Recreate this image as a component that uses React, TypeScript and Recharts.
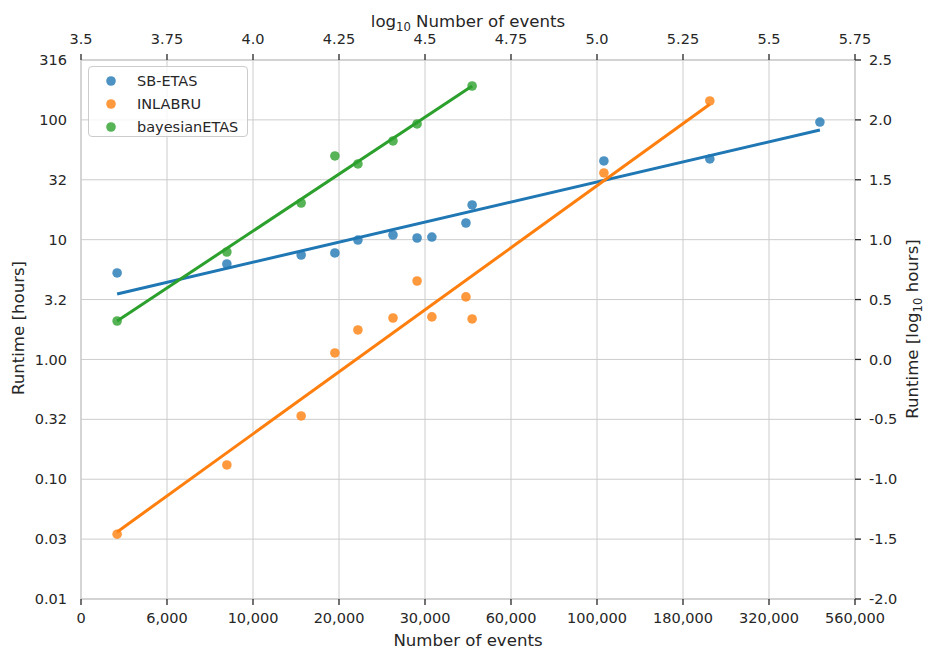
import React from "react";
import {
  ComposedChart,
  Scatter,
  XAxis,
  YAxis,
  CartesianGrid,
  Legend,
} from "recharts";

// x = log10(number of events), y = log10(runtime in hours)
const sbEtasLogEvents = [3.605, 3.924, 4.14, 4.238, 4.305, 4.407, 4.477, 4.52, 4.619, 4.637, 5.02, 5.328, 5.648];
const sbEtasLogHours = [0.722, 0.797, 0.872, 0.889, 0.997, 1.039, 1.014, 1.022, 1.139, 1.29, 1.657, 1.674, 1.982];

const inlabruLogEvents = [3.605, 3.924, 4.14, 4.238, 4.305, 4.407, 4.477, 4.52, 4.619, 4.637, 5.02, 5.328];
const inlabruLogHours = [-1.459, -0.881, -0.472, 0.054, 0.246, 0.346, 0.655, 0.355, 0.522, 0.338, 1.557, 2.158];

const bayesLogEvents = [3.605, 3.924, 4.14, 4.238, 4.305, 4.407, 4.477, 4.637];
const bayesLogHours = [0.321, 0.897, 1.306, 1.699, 1.632, 1.824, 1.966, 2.283];

// regression line end points
const sbEtasFitX = [3.605, 5.648];
const sbEtasFitY = [0.547, 1.916];
const inlabruFitX = [3.605, 5.328];
const inlabruFitY = [-1.44, 2.13];
const bayesFitX = [3.605, 4.637];
const bayesFitY = [0.321, 2.283];

const xTicks = [3.5, 3.75, 4, 4.25, 4.5, 4.75, 5, 5.25, 5.5, 5.75];
const topTickLabels = ["3.5", "3.75", "4.0", "4.25", "4.5", "4.75", "5.0", "5.25", "5.5", "5.75"];
const bottomTickLabels = ["0", "6,000", "10,000", "20,000", "30,000", "60,000", "100,000", "180,000", "320,000", "560,000"];
const yTicks = [-2, -1.5, -1, -0.5, 0, 0.5, 1, 1.5, 2, 2.5];
const leftTickLabels = ["0.01", "0.03", "0.10", "0.32", "1.00", "3.2", "10", "32", "100", "316"];
const rightTickLabels = ["-2.0", "-1.5", "-1.0", "-0.5", "0.0", "0.5", "1.0", "1.5", "2.0", "2.5"];

const FONT = "DejaVu Sans";
const TEXT = "#262626";
const SPINE = "#cccccc";

const zip = (xs: number[], ys: number[]) => xs.map((x, i) => ({ x, y: ys[i] }));

const series = [
  { name: "SB-ETAS", color: "#1f77b4", pts: zip(sbEtasLogEvents, sbEtasLogHours), fit: zip(sbEtasFitX, sbEtasFitY) },
  { name: "INLABRU", color: "#ff7f0e", pts: zip(inlabruLogEvents, inlabruLogHours), fit: zip(inlabruFitX, inlabruFitY) },
  { name: "bayesianETAS", color: "#2ca02c", pts: zip(bayesLogEvents, bayesLogHours), fit: zip(bayesFitX, bayesFitY) },
];

const labelFor = (ticks: number[], labels: string[]) => (v: number) => {
  const i = ticks.findIndex((t) => Math.abs(t - v) < 1e-6);
  return i >= 0 ? labels[i] : String(v);
};

const tickStyle = { fill: TEXT, fontSize: 14.5, fontFamily: FONT };
const tickLine = { stroke: TEXT, strokeWidth: 1.3 };
const axisLine = { stroke: SPINE, strokeWidth: 1.3 };

function Dot(color: string) {
  return (p: any) => <circle cx={p.cx} cy={p.cy} r={4.8} fill={color} fillOpacity={0.8} />;
}

const noShape = () => <g />;

function LegendBox() {
  return (
    <div
      style={{
        width: 160,
        height: 71,
        border: "1px solid #cccccc",
        borderRadius: 4,
        background: "rgba(255,255,255,0.8)",
        fontFamily: FONT,
        fontSize: 14.5,
        color: TEXT,
        boxSizing: "border-box",
        paddingTop: 2,
      }}
    >
      {series.map((s) => (
        <div key={s.name} style={{ display: "flex", alignItems: "center", height: 23.3 }}>
          <svg width={48} height={20} style={{ display: "block" }}>
            <circle cx={22} cy={10} r={4.8} fill={s.color} fillOpacity={0.8} />
          </svg>
          <span>{s.name}</span>
        </div>
      ))}
    </div>
  );
}

const topLabel = () => (
  <text x={468} y={27} textAnchor="middle" fill={TEXT} fontSize={16.6} fontFamily={FONT}>
    <tspan>log</tspan>
    <tspan fontSize={11.6} dy={4}>10</tspan>
    <tspan dy={-4}> Number of events</tspan>
  </text>
);

const bottomLabel = () => (
  <text x={468} y={646} textAnchor="middle" fill={TEXT} fontSize={16.6} fontFamily={FONT}>
    Number of events
  </text>
);

const leftLabel = () => (
  <text x={24} y={328} transform="rotate(-90 24 328)" textAnchor="middle" fill={TEXT} fontSize={16.6} fontFamily={FONT}>
    Runtime [hours]
  </text>
);

const rightLabel = () => (
  <text x={918} y={329} transform="rotate(-90 918 329)" textAnchor="middle" fill={TEXT} fontSize={16.6} fontFamily={FONT}>
    <tspan>Runtime [log</tspan>
    <tspan fontSize={11.6} dy={4}>10</tspan>
    <tspan dy={-4}> hours]</tspan>
  </text>
);

export default function App() {
  return (
    <div style={{ position: "absolute", left: 0, top: 0, background: "#fff" }}>
      <ComposedChart
        width={936}
        height={660}
        margin={{ top: 0, right: 0, bottom: 0, left: 0 }}
        style={{ fontFamily: FONT }}
      >
        <CartesianGrid xAxisId="bottom" yAxisId="left" stroke={SPINE} strokeWidth={1} horizontalValues={yTicks} verticalValues={xTicks} />
        <XAxis
          xAxisId="bottom"
          type="number"
          dataKey="x"
          domain={[3.5, 5.75]}
          ticks={xTicks}
          tickFormatter={labelFor(xTicks, bottomTickLabels)}
          height={61}
          tick={tickStyle}
          tickLine={tickLine}
          axisLine={axisLine}
          tickSize={6}
          tickMargin={8}
          interval={0}
          allowDataOverflow
          label={bottomLabel}
        />
        <XAxis
          xAxisId="top"
          orientation="top"
          type="number"
          dataKey="x"
          domain={[3.5, 5.75]}
          ticks={xTicks}
          tickFormatter={labelFor(xTicks, topTickLabels)}
          height={60}
          tick={tickStyle}
          tickLine={tickLine}
          axisLine={axisLine}
          tickSize={6}
          tickMargin={10}
          interval={0}
          allowDataOverflow
          label={topLabel}
        />
        <YAxis
          yAxisId="left"
          type="number"
          dataKey="y"
          domain={[-2, 2.5]}
          ticks={yTicks}
          tickFormatter={labelFor(yTicks, leftTickLabels)}
          width={81}
          tick={tickStyle}
          tickLine={false}
          axisLine={axisLine}
          tickSize={6}
          tickMargin={8}
          interval={0}
          allowDataOverflow
          label={leftLabel}
        />
        <YAxis
          yAxisId="right"
          orientation="right"
          type="number"
          dataKey="y"
          domain={[-2, 2.5]}
          ticks={yTicks}
          tickFormatter={labelFor(yTicks, rightTickLabels)}
          width={81}
          tick={tickStyle}
          tickLine={tickLine}
          axisLine={axisLine}
          tickSize={6}
          tickMargin={8}
          interval={0}
          allowDataOverflow
          label={rightLabel}
        />
        {series.map((s) => (
          <Scatter
            key={s.name}
            name={s.name}
            data={s.pts}
            xAxisId="bottom"
            yAxisId="left"
            shape={Dot(s.color)}
            isAnimationActive={false}
          />
        ))}
        {series.map((s) => (
          <Scatter
            key={s.name + "-fit"}
            data={s.fit}
            xAxisId="bottom"
            yAxisId="left"
            line={{ stroke: s.color, strokeWidth: 3 }}
            shape={noShape}
            legendType="none"
            isAnimationActive={false}
          />
        ))}
        <Legend
          layout="vertical"
          align="center"
          verticalAlign="middle"
          content={() => <LegendBox />}
          wrapperStyle={{ left: 88, top: 66, width: 162, height: 73 }}
        />
      </ComposedChart>
    </div>
  );
}
